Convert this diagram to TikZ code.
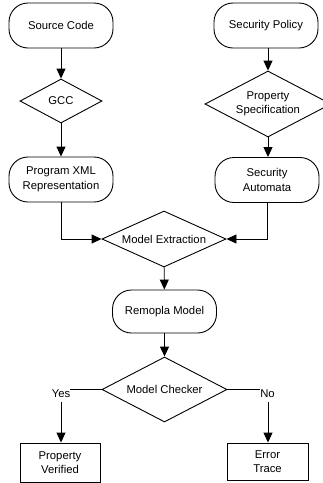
\documentclass[tikz,border=0pt]{standalone}
\usepackage{fontspec}
\setmainfont{Liberation Sans}
\usetikzlibrary{shapes.geometric,arrows.meta}
\begin{document}
\begin{tikzpicture}[x=1pt,y=-1pt,
  every node/.style={font=\fontsize{11.3pt}{14.5pt}\selectfont, align=center},
  term/.style={draw, line width=0.9pt, rounded corners=19pt, minimum width=104pt, minimum height=45pt, inner sep=0pt},
  dec/.style={draw, line width=0.9pt, diamond, aspect=2, inner sep=0pt},
  outbox/.style={draw, line width=0.9pt, rectangle, minimum width=80pt, minimum height=38pt, inner sep=0pt},
  lbl/.style={inner sep=0pt},
  conn/.style={line width=0.9pt},
  arr/.style={conn, -{Triangle[length=10pt,width=9pt]}}]
\useasboundingbox (0,0) rectangle (323,483);
\clip (0,0) rectangle (323,483);
% left column
\node[term] (src) at (61,25.5) {Source Code};
\node[dec, minimum width=82pt, minimum height=44pt] (gcc) at (61,101) {GCC};
\node[term] (xml) at (61,179.5) {Program XML\\Representation};
% right column
\node[term] (pol) at (266,25.5) {Security Policy};
\node[dec, minimum width=126pt, minimum height=66pt] (spec) at (268,104) {Property\\Specification};
\node[term] (aut) at (267,180) {Security\\Automata};
% middle
\node[dec, minimum width=124pt, minimum height=56pt] (ext) at (164,239) {Model Extraction};
\node[term, minimum width=104pt, minimum height=43pt] (rem) at (164.5,311.5) {Remopla Model};
\node[dec, minimum width=125pt, minimum height=65pt] (chk) at (164.5,389.5) {Model Checker};
% outputs
\node[outbox, minimum height=39pt] (ver) at (60,462.5) {Property\\Verified};
\node[outbox, minimum width=81pt, minimum height=37pt] (err) at (267.5,461.5) {Error\\Trace};
% branch labels
\node[lbl] (yes) at (61,394) {Yes};
\node[lbl] (no) at (267.5,394) {No};
\coordinate (yesdown) at (61,402);
\coordinate (nodown) at (268,402);
% connectors
\draw[arr] (src) -- (gcc);
\draw[arr] (gcc) -- (xml);
\draw[arr] (pol.south -| spec.north) -- (spec.north);
\draw[arr] (spec.south) -- (aut.north -| spec.south);
\draw[arr] (xml.south) |- (ext.west);
\draw[arr] (aut.south) |- (ext.east);
\draw[arr] (ext) -- (rem);
\draw[arr] (rem) -- (chk);
\draw[conn] (chk.west) -- (chk.west -| yes.east);
\draw[conn] (chk.east) -- (chk.east -| no.west);
\draw[arr] (yesdown) -- (ver.north -| yesdown);
\draw[arr] (nodown) -- (err.north -| nodown);
\end{tikzpicture}
\end{document}
